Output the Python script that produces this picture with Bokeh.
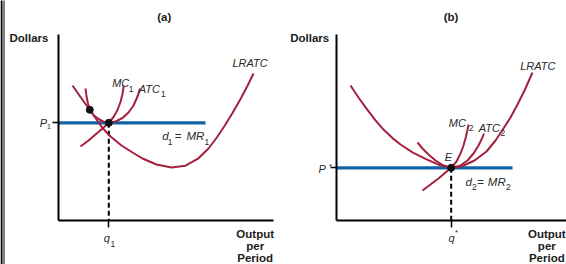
from bokeh.plotting import figure
from bokeh.models import (Range1d, LinearAxis, FixedTicker, Label, PolyAnnotation,
                          GlobalInlineStyleSheet)
from bokeh.layouts import row
from bokeh.embed import file_html
from bokeh.resources import INLINE

# ---------------- data: panel (a) ----------------
a_lratc_q = [1.4, 2.2, 3.1, 3.8, 4.4, 5.2, 6.3, 7.4, 8.4, 9.8, 11.3, 12.7, 14.0, 15.0,
             15.8, 16.6, 17.4, 18.2, 18.9, 19.5]
a_lratc_c = [13.5, 12.35, 11.1, 10.1, 9.25, 8.4, 7.5, 6.8, 6.2, 5.6, 5.3, 5.48, 6.22, 7.2,
             8.25, 9.45, 10.75, 12.15, 13.47, 14.7]
a_mc_q = [2.2, 3.0, 3.7, 4.4, 5.03, 5.5, 5.9, 6.2, 6.4, 6.53]
a_mc_c = [7.4, 8.0, 8.6, 9.2, 9.77, 10.35, 11.05, 11.85, 12.65, 13.5]
a_atc_q = [2.7, 2.8, 2.95, 3.13, 3.5, 4.0, 4.5, 5.03, 5.7, 6.4, 7.0, 7.5, 7.9, 8.15]
a_atc_c = [13.2, 12.4, 11.7, 11.07, 10.55, 10.15, 9.88, 9.77, 9.9, 10.25, 10.8, 11.5, 12.4, 13.2]
a_dots_q = [3.13, 5.03]
a_dots_c = [11.07, 9.77]
a_q1 = 5.03
a_p1 = 9.77
a_mr_end = 14.7
a_q_max = 21.5

# ---------------- data: panel (b) ----------------
b_lratc_q = [1.4, 2.2, 3.0, 3.9, 4.7, 5.6, 6.4, 7.6, 8.9, 10.2, 11.47, 12.6, 13.8, 15.0,
             15.9, 16.7, 17.4, 18.1, 18.8, 19.6]
b_lratc_c = [13.5, 12.3, 11.18, 10.01, 9.09, 8.24, 7.6, 6.82, 6.17, 5.58, 5.27, 5.45, 6.0,
             6.9, 8.0, 9.2, 10.3, 11.6, 13.0, 14.8]
b_mc_q = [8.6, 9.4, 10.2, 10.9, 11.47, 12.0, 12.4, 12.7, 12.95, 13.1, 13.2]
b_mc_c = [3.0, 3.6, 4.2, 4.8, 5.27, 5.9, 6.7, 7.5, 8.4, 9.1, 9.6]
b_atc_q = [8.1, 8.6, 9.2, 9.9, 10.7, 11.47, 12.3, 13.1, 13.7, 14.2, 14.55, 14.75]
b_atc_c = [7.8, 7.2, 6.6, 6.0, 5.5, 5.27, 5.45, 6.0, 6.7, 7.5, 8.2, 8.7]
b_qstar = 11.47
b_pstar = 5.27
b_mr_end = 17.6
b_q_max = 23.0

c_max = 18.6

CURVE = "#a3213d"
BLUE = "#0f64a8"
TXT = "#2a2a2a"
BOLD = "#1c1c1c"
FONT = "Liberation Sans"


def lab(p, x, y, text, size="11px", style="italic", align="left", color=TXT):
    p.add_layout(Label(x=x, y=y, text=text, text_font=FONT, text_font_size=size,
                       text_font_style=style, text_align=align,
                       text_baseline="alphabetic", text_color=color))


def make_panel(x0, x1):
    p = figure(width=283, height=264, x_range=Range1d(x0, x1), y_range=Range1d(-4.4, 22.0),
               output_backend="svg", toolbar_location=None, x_axis_type=None,
               y_axis_type=None, min_border_left=0, min_border_right=0,
               min_border_top=0, min_border_bottom=0)
    p.title.visible = False
    p.outline_line_color = None
    p.background_fill_color = "white"
    p.border_fill_color = "white"
    return p


def add_axes(p, qv, pv, qmax):
    ya = LinearAxis(ticker=FixedTicker(ticks=[pv]), fixed_location=0, bounds=(0, c_max),
                    axis_line_width=2, axis_line_color="black",
                    major_tick_line_width=1.5, major_tick_line_color="black",
                    major_tick_out=6, major_tick_in=0, minor_tick_out=0, minor_tick_in=0,
                    major_label_text_color=None)
    xa = LinearAxis(ticker=FixedTicker(ticks=[qv]), fixed_location=0, bounds=(0, qmax),
                    axis_line_width=2, axis_line_color="black",
                    major_tick_line_width=1.5, major_tick_line_color="black",
                    major_tick_out=7, major_tick_in=0, minor_tick_out=0, minor_tick_in=0,
                    major_label_text_color=None)
    p.add_layout(ya, "left")
    p.add_layout(xa, "below")


# ---------------- panel (a) ----------------
pa = make_panel(-5.8, 22.5)
add_axes(pa, a_q1, a_p1, a_q_max)
pa.line([0, a_mr_end], [a_p1, a_p1], line_color=BLUE, line_width=3.2)
pa.line([a_q1, a_q1], [a_p1, 0], line_color="black", line_width=2, line_dash="5 3")
pa.line(a_lratc_q, a_lratc_c, line_color=CURVE, line_width=2)
pa.line(a_mc_q, a_mc_c, line_color=CURVE, line_width=2)
pa.line(a_atc_q, a_atc_c, line_color=CURVE, line_width=2)
pa.scatter(a_dots_q, a_dots_c, size=7, color="#111111")

lab(pa, 10.57, 20.35, "(a)", size="11.5px", style="bold", align="center", color=BOLD)
lab(pa, -4.9, 18.22, "Dollars", size="11.5px", style="bold", color=BOLD)
lab(pa, 17.4, 15.75, "LRATC")
lab(pa, 5.37, 13.72, "MC")
lab(pa, 7.03, 13.2, "1", size="8.5px", style="normal")
lab(pa, 8.03, 13.15, "ATC")
lab(pa, 10.25, 12.65, "1", size="8.5px", style="normal")
lab(pa, 10.37, 8.45, "d", size="11.5px")
lab(pa, 10.93, 7.9, "1", size="8.5px", style="normal")
lab(pa, 11.63, 8.45, "=", size="11.5px", style="normal")
lab(pa, 12.8, 8.45, "MR", size="11.5px")
lab(pa, 14.6, 7.9, "1", size="8.5px", style="normal")
lab(pa, -1.87, 9.75, "P")
lab(pa, -1.15, 9.4, "1", size="7px", style="normal")
lab(pa, 4.53, -1.75, "q")
lab(pa, 5.2, -2.35, "1", size="8.5px", style="normal")
lab(pa, 19.67, -1.35, "Output", size="11.5px", style="bold", align="center", color=BOLD)
lab(pa, 19.67, -2.55, "per", size="11.5px", style="bold", align="center", color=BOLD)
lab(pa, 19.67, -3.75, "Period", size="11.5px", style="bold", align="center", color=BOLD)

pa.add_layout(PolyAnnotation(xs=[-5.8, -5.6, -5.6, -5.8], ys=[-5, -5, 23, 23],
                             fill_color="black", fill_alpha=1, line_color=None))
pa.add_layout(PolyAnnotation(xs=[-5.5, -5.4, -5.4, -5.5], ys=[-5, -5, 23, 23],
                             fill_color="black", fill_alpha=1, line_color=None))

# ---------------- panel (b) ----------------
pb = make_panel(-5.3, 23.0)
add_axes(pb, b_qstar, b_pstar, b_q_max)
pb.line([0, b_mr_end], [b_pstar, b_pstar], line_color=BLUE, line_width=3.2)
pb.line([b_qstar, b_qstar], [b_pstar, 0], line_color="black", line_width=2, line_dash="5 3")
pb.line(b_lratc_q, b_lratc_c, line_color=CURVE, line_width=2)
pb.line(b_mc_q, b_mc_c, line_color=CURVE, line_width=2)
pb.line(b_atc_q, b_atc_c, line_color=CURVE, line_width=2)
pb.scatter([b_qstar], [b_pstar], size=7, color="#111111")

lab(pb, 11.45, 20.35, "(b)", size="11.5px", style="bold", align="center", color=BOLD)
lab(pb, -4.63, 18.22, "Dollars", size="11.5px", style="bold", color=BOLD)
lab(pb, 18.37, 15.45, "LRATC")
lab(pb, 11.23, 9.78, "MC")
lab(pb, 13.23, 9.3, "2", size="8.5px", style="normal")
lab(pb, 14.23, 9.28, "ATC")
lab(pb, 16.4, 8.8, "2", size="8.5px", style="normal")
lab(pb, 10.83, 6.38, "E")
lab(pb, 12.9, 3.85, "d", size="11.5px")
lab(pb, 13.55, 3.35, "2", size="8.5px", style="normal")
lab(pb, 14.07, 3.85, "=", size="11.5px", style="normal")
lab(pb, 15.13, 3.85, "MR", size="11.5px")
lab(pb, 16.95, 3.35, "2", size="8.5px", style="normal")
lab(pb, -1.8, 5.2, "P")
lab(pb, -0.75, 5.4, "*", size="8px", style="normal")
lab(pb, 11.2, -1.75, "q")
lab(pb, 11.85, -1.2, "*", size="8px", style="normal")
lab(pb, 21.03, -1.35, "Output", size="11.5px", style="bold", align="center", color=BOLD)
lab(pb, 21.03, -2.55, "per", size="11.5px", style="bold", align="center", color=BOLD)
lab(pb, 21.03, -3.75, "Period", size="11.5px", style="bold", align="center", color=BOLD)

pa.stylesheets = [GlobalInlineStyleSheet(css="html, body { margin: 0; padding: 0; }")]

layout = row(pa, pb)
open("out.html", "w").write(file_html(layout, INLINE))
